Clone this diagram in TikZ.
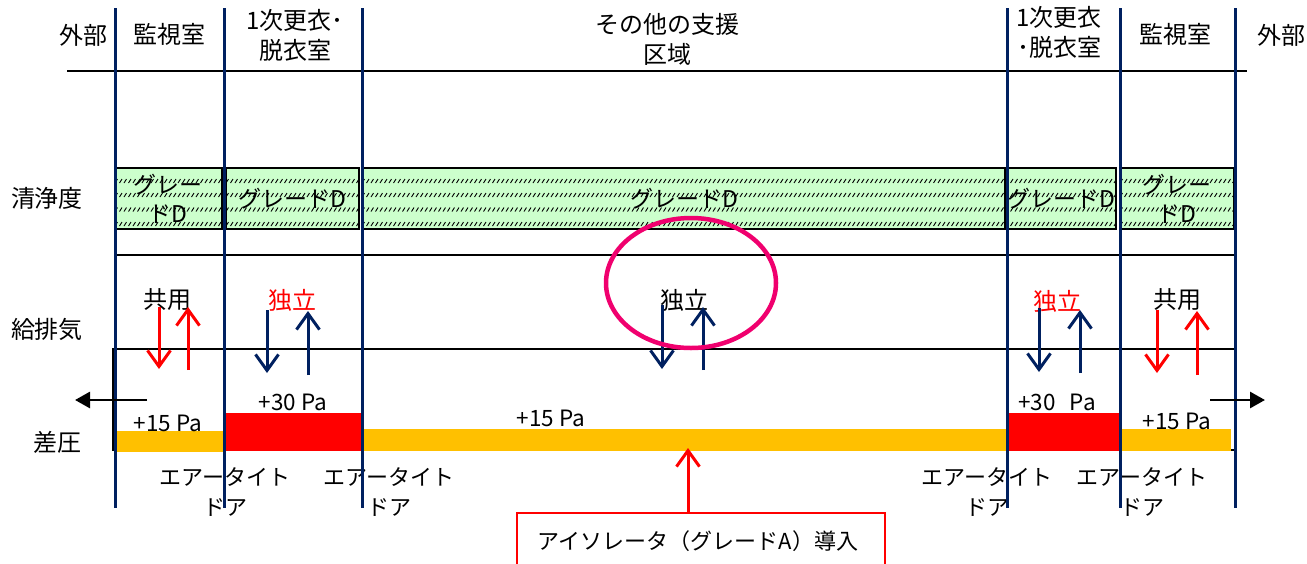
\documentclass[tikz,border=0pt]{standalone}
\usepackage{fontspec}
\setmainfont{Noto Sans CJK JP}
\usetikzlibrary{arrows.meta,shapes.geometric}
\definecolor{navy}{HTML}{002060}
\definecolor{orangebar}{HTML}{FFC000}
\definecolor{gfill}{HTML}{CCFFCC}
\definecolor{ring}{RGB}{240,0,110}
\begin{document}
\begin{tikzpicture}[x=1pt,y=-1pt,
  lab/.style={font=\fontsize{24}{30}\selectfont, inner sep=0pt, align=center},
  door/.style={font=\fontsize{22}{30}\selectfont, inner sep=0pt, align=center},
  pa/.style={font=\fontsize{22.5}{24}\selectfont, inner sep=0pt},
  gtext/.style={font=\fontsize{23}{29}\selectfont, inner sep=0pt, align=center},
  gborder/.style={draw=black, line width=2.2pt},
  hatch/.style={black, line width=0.9pt},
  navyline/.style={navy, line width=3pt},
  rule/.style={black, line width=2.8pt},
  flow/.style={line width=3pt, -{Straight Barb[length=16pt,width=23pt]}},
  bigarrow/.style={black, line width=2.8pt, -{Triangle[length=15pt,width=16pt]}}
]
\useasboundingbox (0,0) rectangle (1307,563);

% top rule
\coordinate (tl) at (67,71); \coordinate (tr) at (1247,71);
\draw[rule] (tl) -- (tr);
% air section rules
\coordinate (al) at (115,255); \coordinate (ar) at (1235,255);
\draw[rule] (al) -- (ar);
\coordinate (bl) at (113,349); \coordinate (br) at (1235,450);
\draw[rule] (bl) rectangle (br);

% grade boxes
\foreach \l/\r in {115/222, 226/359, 362/1005, 1006/1116, 1120/1234} {
  \fill[gfill] (\l,168) rectangle (\r,229);
  \pgfmathsetmacro\xs{\l+4.5}
  \begin{scope}
    \clip (\l,168) rectangle (\r,229);
    \foreach \y in {181,195,209.5,224} {
      \draw[hatch] \foreach \x in {\l,\xs,...,\r} {(\x,\y+2) -- ++(2.5,-4)};
    }
  \end{scope}
  \draw[gborder] (\l,168) rectangle (\r,229);
}
\node[gtext] (g1) at (168,199) {グレー\\ドD};
\node[gtext] (g2) at (292,199) {グレードD};
\node[gtext] (g3) at (684,199) {グレードD};
\node[gtext] (g4) at (1061,199) {グレードD};
\node[gtext] (g5) at (1177,199) {グレー\\ドD};

% pressure bars
\fill[orangebar] (115,431) rectangle (224,452);
\fill[red] (224,413) rectangle (362,451);
\fill[orangebar] (362,429) rectangle (1007,451);
\fill[red] (1007,413) rectangle (1121,451);
\fill[orangebar] (1121,429) rectangle (1231,451);

% header labels
\node[lab] (h1) at (83,35) {外部};
\node[lab] (h2) at (169,34) {監視室};
\node[lab] (h3) at (295,35) {1次更衣･\\脱衣室};
\node[lab] (h4) at (667,39) {その他の支援\\区域};
\node[lab] (h5) at (1059,32) {1次更衣\\･脱衣室};
\node[lab] (h6) at (1175,34) {監視室};
\node[lab] (h7) at (1281,35) {外部};

% row labels
\node[lab] (r1) at (47,198) {清浄度};
\node[lab] (r2) at (47,329) {給排気};
\node[lab] (r3) at (58,442) {差圧};

% air labels
\node[lab] (k1) at (167,300) {共用};
\node[lab, text=red] (k2) at (292,300) {独立};
\node[lab] (k3) at (684,300) {独立};
\node[lab, text=red] (k4) at (1057,301) {独立};
\node[lab] (k5) at (1177,300) {共用};

% pressure labels
\node[pa] (p1) at (168,423) {+15 Pa};
\node[pa] (p2) at (293,402) {+30 Pa};
\node[pa] (p3) at (551,418) {+15 Pa};
\node[pa] (p4) at (1057,402) {+30\hspace{14pt}Pa};
\node[pa] (p5) at (1177,421) {+15 Pa};

% door labels
\node[door] (d1) at (225,492) {エアータイト\\ドア};
\node[door] (d2) at (389,492) {エアータイト\\ドア};
\node[door] (d3) at (987,492) {エアータイト\\ドア};
\node[door] (d4) at (1142,492) {エアータイト\\ドア};

% vertical navy lines
\foreach \x in {115,224,362,1007,1120,1235} {
  \coordinate (v\x a) at (\x,8); \coordinate (v\x b) at (\x,508);
  \draw[navyline] (v\x a) -- (v\x b);
}

% supply/exhaust arrows
\foreach \n/\x/\ya/\yb/\c in {
  a1/159/307/369/red, a2/188/370/307/red,
  a3/267/310/373/navy, a4/308/375/311/navy,
  a5/662/305/369/navy, a6/703/370/307/navy,
  a7/1039/308/372/navy, a8/1080/373/310/navy,
  a9/1157/310/373/red, a10/1197/375/311/red} {
  \coordinate (\n s) at (\x,\ya); \coordinate (\n e) at (\x,\yb);
  \draw[flow, \c] (\n s) -- (\n e);
}

% outside arrows
\coordinate (la) at (147,400); \coordinate (lb) at (75,400);
\draw[bigarrow] (la) -- (lb);
\coordinate (ra) at (1210,400); \coordinate (rb) at (1265,400);
\draw[bigarrow] (ra) -- (rb);

% ring
\node[draw=ring, line width=4.5pt, ellipse, minimum width=170pt, minimum height=130pt, inner sep=0pt] (ring) at (691,283) {};

% isolator box
\node[door] (iso) at (698,541) {アイソレータ（グレードA）導入};
\coordinate (isoA) at (517,566); \coordinate (isoB) at (517,513);
\coordinate (isoC) at (885,513); \coordinate (isoD) at (885,566);
\draw[red, line width=2pt] (isoA) -- (isoB) -- (isoC) -- (isoD);
\coordinate (isotop) at (688,513); \coordinate (bar) at (688,448);
\draw[flow, red] (isotop) -- (bar);
\end{tikzpicture}
\end{document}
